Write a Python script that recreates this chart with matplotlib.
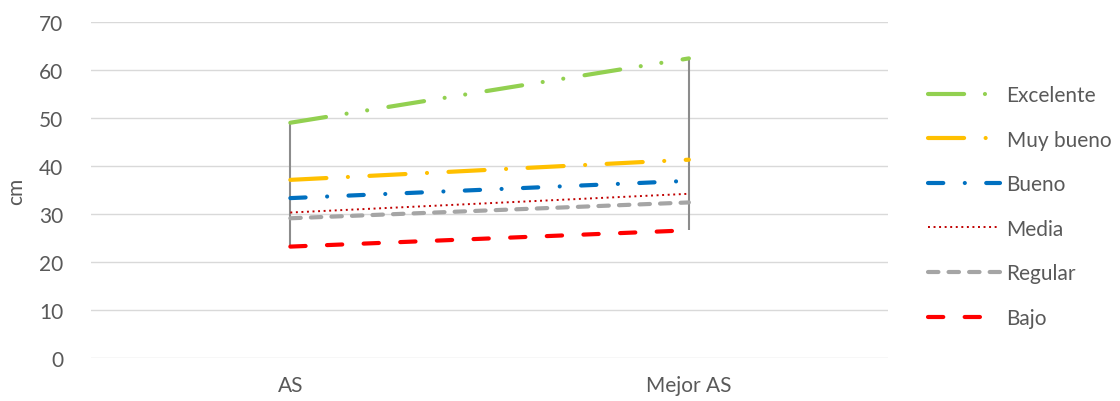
import matplotlib
matplotlib.use("Agg")
import matplotlib.pyplot as plt
import numpy as np

plt.rcParams['font.family'] = ['Lato', 'DejaVu Sans']
plt.rcParams['lines.scale_dashes'] = False

categories = ["AS", "Mejor AS"]
series_names = ["Excelente", "Muy bueno", "Bueno", "Media", "Regular", "Bajo"]
excelente = [49.0, 62.4]
muy_bueno = [37.1, 41.3]
bueno = [33.3, 36.9]
media = [30.3, 34.2]
regular = [29.1, 32.4]
bajo = [23.2, 26.6]
series_values = [excelente, muy_bueno, bueno, media, regular, bajo]

colors = ["#92D050", "#FFC000", "#0070C0", "#C00000", "#A5A5A5", "#FF0000"]
widths = [3.0, 3.0, 3.0, 1.4, 3.0, 3.0]
dashes = [
    (0, (26, 15, 0.01, 15, 0.01, 15.5)),
    (0, (26, 15.5, 0.01, 15.5)),
    (0, (11, 15.5, 0.01, 15.4)),
    (0, (1.4, 2.6)),
    (0, (7.5, 7.3)),
    (0, (11, 15.4)),
]
caps = ["round", "round", "round", "butt", "round", "round"]

text_color = "#595959"
fs = 15
fig = plt.figure(figsize=(11.2, 4.02), dpi=100)
ax = fig.add_axes([0.0813, 0.107, 0.7117, 0.836])

x = np.arange(len(categories))

# high-low lines spanning every series at each category
vals = np.array(series_values)
ax.vlines(x, vals.min(axis=0), vals.max(axis=0), color="#8C8C8C", lw=1.5, zorder=2)

for name, v, c, w, d, cap in zip(series_names, series_values, colors, widths, dashes, caps):
    ax.plot(x, v, color=c, lw=w, linestyle=d, dash_capstyle=cap,
            solid_capstyle=cap, label=name, zorder=3)

ax.set_xlim(-0.5, 1.5)
ax.set_ylim(0, 70)
ax.set_yticks(np.arange(0, 71, 10))
ax.set_xticks(x)
ax.set_xticklabels(categories)
ax.yaxis.grid(True, color="#D9D9D9", lw=1.0)
ax.set_axisbelow(True)
for s in ax.spines.values():
    s.set_visible(False)
ax.tick_params(axis="both", length=0, labelsize=fs, labelcolor=text_color)
ax.tick_params(axis="y", pad=20)
ax.tick_params(axis="x", pad=12)
ax.set_ylabel("cm", fontsize=fs, color=text_color, labelpad=9)

leg = ax.legend(loc="center left", bbox_to_anchor=(1.026, 0.451), frameon=False,
                fontsize=fs, labelcolor=text_color, handlelength=3.45,
                handletextpad=0.34, labelspacing=1.18)

fig.savefig("out.png", dpi=100)
